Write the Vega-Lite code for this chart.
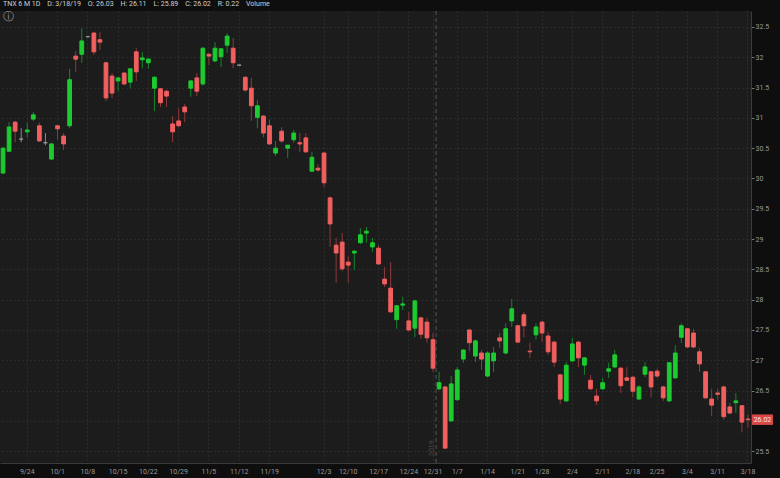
{
  "$schema": "https://vega.github.io/schema/vega-lite/v6.json",
  "width": 751,
  "height": 452,
  "autosize": {"type": "none"},
  "padding": {"left": 0, "top": 11, "right": 29, "bottom": 15},
  "background": "#0e0e0e",
  "title": {"text": "TNX 6 M 1D\u00a0\u00a0\u00a0\u00a0D: 3/18/19\u00a0\u00a0\u00a0\u00a0O: 26.03\u00a0\u00a0\u00a0\u00a0H: 26.11\u00a0\u00a0\u00a0\u00a0L: 25.89\u00a0\u00a0\u00a0\u00a0C: 26.02\u00a0\u00a0\u00a0\u00a0R: 0.22\u00a0\u00a0\u00a0\u00a0Volume", "anchor": "start", "frame": "group", "fontSize": 7, "font": "Roboto", "fontWeight": "normal", "color": "#d0d0d0", "offset": 3, "baseline": "bottom", "dx": 3, "dy": 6},
  "config": {
    "view": {"fill": "#1c1c1c", "stroke": null},
    "axis": {"labelFont": "Roboto", "labelFontSize": 7, "labelColor": "#9a9a9a", "gridColor": "#3a3a3a", "gridDash": [1, 3], "domainColor": "#3a3a3a", "title": null, "labelOverlap": false}
  },
  "data": {"values": [
    {"d":"9/18","o":30.09,"h":30.52,"l":30.07,"c":30.50},
    {"d":"9/19","o":30.45,"h":30.93,"l":30.44,"c":30.85},
    {"d":"9/20","o":30.93,"h":30.95,"l":30.60,"c":30.78},
    {"d":"9/21","o":30.65,"h":30.83,"l":30.60,"c":30.65},
    {"d":"9/24","o":30.77,"h":30.93,"l":30.67,"c":30.80},
    {"d":"9/25","o":30.98,"h":31.10,"l":30.95,"c":31.05},
    {"d":"9/26","o":30.87,"h":30.92,"l":30.60,"c":30.62},
    {"d":"9/27","o":30.59,"h":30.75,"l":30.55,"c":30.59},
    {"d":"9/28","o":30.32,"h":30.59,"l":30.31,"c":30.57},
    {"d":"10/1","o":30.87,"h":30.88,"l":30.64,"c":30.82},
    {"d":"10/2","o":30.70,"h":30.75,"l":30.47,"c":30.57},
    {"d":"10/3","o":30.87,"h":31.81,"l":30.83,"c":31.63},
    {"d":"10/4","o":32.02,"h":32.10,"l":31.76,"c":31.97},
    {"d":"10/5","o":32.05,"h":32.48,"l":31.91,"c":32.27},
    {"d":"10/8","o":32.34,"h":32.35,"l":32.33,"c":32.34},
    {"d":"10/9","o":32.40,"h":32.42,"l":32.04,"c":32.09},
    {"d":"10/10","o":32.29,"h":32.42,"l":32.12,"c":32.25},
    {"d":"10/11","o":31.91,"h":31.92,"l":31.28,"c":31.33},
    {"d":"10/12","o":31.69,"h":31.74,"l":31.33,"c":31.41},
    {"d":"10/15","o":31.61,"h":31.66,"l":31.44,"c":31.66},
    {"d":"10/16","o":31.74,"h":31.76,"l":31.54,"c":31.56},
    {"d":"10/17","o":31.59,"h":31.82,"l":31.49,"c":31.81},
    {"d":"10/18","o":32.09,"h":32.15,"l":31.61,"c":31.76},
    {"d":"10/19","o":31.96,"h":32.09,"l":31.82,"c":31.99},
    {"d":"10/22","o":31.91,"h":31.99,"l":31.81,"c":31.97},
    {"d":"10/23","o":31.49,"h":31.69,"l":31.11,"c":31.67},
    {"d":"10/24","o":31.48,"h":31.49,"l":31.18,"c":31.25},
    {"d":"10/25","o":31.44,"h":31.46,"l":31.18,"c":31.36},
    {"d":"10/26","o":30.90,"h":31.03,"l":30.60,"c":30.77},
    {"d":"10/29","o":30.95,"h":31.16,"l":30.85,"c":30.87},
    {"d":"10/30","o":31.18,"h":31.23,"l":30.93,"c":31.10},
    {"d":"10/31","o":31.49,"h":31.63,"l":31.35,"c":31.61},
    {"d":"11/1","o":31.66,"h":31.74,"l":31.36,"c":31.44},
    {"d":"11/2","o":31.56,"h":32.17,"l":31.53,"c":32.15},
    {"d":"11/5","o":32.05,"h":32.07,"l":31.87,"c":32.02},
    {"d":"11/6","o":31.94,"h":32.25,"l":31.92,"c":32.15},
    {"d":"11/7","o":32.01,"h":32.15,"l":31.84,"c":32.14},
    {"d":"11/8","o":32.20,"h":32.40,"l":32.07,"c":32.35},
    {"d":"11/9","o":32.15,"h":32.32,"l":31.82,"c":31.91},
    {"d":"11/12","o":31.87,"h":31.88,"l":31.86,"c":31.87},
    {"d":"11/13","o":31.67,"h":31.69,"l":31.43,"c":31.46},
    {"d":"11/14","o":31.49,"h":31.66,"l":30.95,"c":31.20},
    {"d":"11/15","o":31.01,"h":31.30,"l":30.83,"c":31.20},
    {"d":"11/16","o":31.03,"h":31.05,"l":30.68,"c":30.75},
    {"d":"11/19","o":30.87,"h":30.97,"l":30.55,"c":30.57},
    {"d":"11/20","o":30.42,"h":30.62,"l":30.37,"c":30.50},
    {"d":"11/21","o":30.78,"h":30.85,"l":30.59,"c":30.62},
    {"d":"11/23","o":30.50,"h":30.55,"l":30.34,"c":30.55},
    {"d":"11/26","o":30.64,"h":30.80,"l":30.59,"c":30.75},
    {"d":"11/27","o":30.59,"h":30.75,"l":30.44,"c":30.57},
    {"d":"11/28","o":30.67,"h":30.75,"l":30.42,"c":30.44},
    {"d":"11/29","o":30.12,"h":30.44,"l":30.11,"c":30.35},
    {"d":"11/30","o":30.17,"h":30.24,"l":30.11,"c":30.14},
    {"d":"12/3","o":30.42,"h":30.44,"l":29.86,"c":29.93},
    {"d":"12/4","o":29.68,"h":29.70,"l":28.87,"c":29.25},
    {"d":"12/6","o":28.90,"h":29.02,"l":28.28,"c":28.77},
    {"d":"12/7","o":28.95,"h":29.10,"l":28.47,"c":28.51},
    {"d":"12/10","o":28.62,"h":28.71,"l":28.28,"c":28.57},
    {"d":"12/11","o":28.77,"h":28.82,"l":28.49,"c":28.80},
    {"d":"12/12","o":28.94,"h":29.18,"l":28.92,"c":29.07},
    {"d":"12/13","o":29.10,"h":29.20,"l":28.94,"c":29.13},
    {"d":"12/14","o":28.87,"h":29.02,"l":28.79,"c":28.94},
    {"d":"12/17","o":28.85,"h":28.90,"l":28.57,"c":28.59},
    {"d":"12/18","o":28.34,"h":28.54,"l":28.21,"c":28.26},
    {"d":"12/19","o":28.19,"h":28.62,"l":27.78,"c":27.80},
    {"d":"12/20","o":27.67,"h":27.91,"l":27.52,"c":27.90},
    {"d":"12/21","o":27.91,"h":28.05,"l":27.83,"c":27.93},
    {"d":"12/24","o":27.65,"h":27.80,"l":27.48,"c":27.50},
    {"d":"12/26","o":27.53,"h":28.00,"l":27.38,"c":27.98},
    {"d":"12/27","o":27.70,"h":27.71,"l":27.35,"c":27.43},
    {"d":"12/28","o":27.63,"h":27.70,"l":27.29,"c":27.37},
    {"d":"12/31","o":27.34,"h":27.45,"l":26.81,"c":26.87},
    {"d":"1/2","o":26.53,"h":26.81,"l":26.51,"c":26.63},
    {"d":"1/3","o":26.56,"h":26.58,"l":25.54,"c":25.55},
    {"d":"1/4","o":26.00,"h":26.74,"l":25.98,"c":26.61},
    {"d":"1/7","o":26.35,"h":26.89,"l":26.33,"c":26.84},
    {"d":"1/8","o":27.02,"h":27.18,"l":26.96,"c":27.17},
    {"d":"1/9","o":27.50,"h":27.52,"l":27.15,"c":27.29},
    {"d":"1/10","o":27.07,"h":27.34,"l":26.97,"c":27.32},
    {"d":"1/11","o":27.12,"h":27.17,"l":26.84,"c":27.02},
    {"d":"1/14","o":26.74,"h":27.15,"l":26.72,"c":27.12},
    {"d":"1/15","o":26.99,"h":27.22,"l":26.81,"c":27.12},
    {"d":"1/16","o":27.37,"h":27.45,"l":27.20,"c":27.32},
    {"d":"1/17","o":27.12,"h":27.61,"l":27.10,"c":27.52},
    {"d":"1/18","o":27.65,"h":28.01,"l":27.55,"c":27.85},
    {"d":"1/22","o":27.57,"h":27.58,"l":27.29,"c":27.30},
    {"d":"1/23","o":27.75,"h":27.80,"l":27.38,"c":27.57},
    {"d":"1/24","o":27.15,"h":27.29,"l":27.04,"c":27.14},
    {"d":"1/25","o":27.42,"h":27.61,"l":27.34,"c":27.55},
    {"d":"1/28","o":27.63,"h":27.65,"l":27.30,"c":27.45},
    {"d":"1/29","o":27.40,"h":27.47,"l":27.09,"c":27.14},
    {"d":"1/30","o":27.30,"h":27.32,"l":26.89,"c":26.97},
    {"d":"1/31","o":26.76,"h":26.77,"l":26.28,"c":26.36},
    {"d":"2/1","o":26.33,"h":26.97,"l":26.31,"c":26.92},
    {"d":"2/4","o":26.99,"h":27.37,"l":26.97,"c":27.27},
    {"d":"2/5","o":27.30,"h":27.32,"l":26.89,"c":27.04},
    {"d":"2/6","o":26.92,"h":27.05,"l":26.76,"c":27.04},
    {"d":"2/7","o":26.67,"h":26.76,"l":26.51,"c":26.53},
    {"d":"2/8","o":26.41,"h":26.53,"l":26.26,"c":26.33},
    {"d":"2/11","o":26.53,"h":26.71,"l":26.51,"c":26.63},
    {"d":"2/12","o":26.82,"h":26.96,"l":26.71,"c":26.86},
    {"d":"2/13","o":26.89,"h":27.17,"l":26.87,"c":27.09},
    {"d":"2/14","o":26.87,"h":26.89,"l":26.46,"c":26.58},
    {"d":"2/15","o":26.71,"h":26.89,"l":26.66,"c":26.67},
    {"d":"2/19","o":26.72,"h":26.74,"l":26.39,"c":26.49},
    {"d":"2/20","o":26.36,"h":26.59,"l":26.35,"c":26.56},
    {"d":"2/21","o":26.77,"h":26.97,"l":26.72,"c":26.89},
    {"d":"2/22","o":26.81,"h":26.82,"l":26.39,"c":26.56},
    {"d":"2/25","o":26.82,"h":26.86,"l":26.71,"c":26.74},
    {"d":"2/26","o":26.56,"h":26.58,"l":26.33,"c":26.38},
    {"d":"2/27","o":26.33,"h":26.97,"l":26.31,"c":26.96},
    {"d":"2/28","o":26.71,"h":27.25,"l":26.69,"c":27.12},
    {"d":"3/1","o":27.38,"h":27.61,"l":27.29,"c":27.57},
    {"d":"3/4","o":27.52,"h":27.53,"l":27.20,"c":27.22},
    {"d":"3/5","o":27.45,"h":27.52,"l":27.20,"c":27.22},
    {"d":"3/6","o":27.14,"h":27.20,"l":26.81,"c":26.94},
    {"d":"3/7","o":26.81,"h":26.82,"l":26.36,"c":26.38},
    {"d":"3/8","o":26.36,"h":26.53,"l":26.08,"c":26.26},
    {"d":"3/11","o":26.46,"h":26.53,"l":26.35,"c":26.44},
    {"d":"3/12","o":26.56,"h":26.58,"l":26.02,"c":26.07},
    {"d":"3/13","o":26.23,"h":26.30,"l":26.11,"c":26.13},
    {"d":"3/14","o":26.30,"h":26.46,"l":26.13,"c":26.33},
    {"d":"3/15","o":26.25,"h":26.26,"l":25.81,"c":25.98},
    {"d":"3/18","o":26.03,"h":26.11,"l":25.89,"c":26.02}
  ]},
  "encoding": {
    "x": {"field": "d", "type": "ordinal", "title": null,
      "scale": {"type": "band", "paddingInner": 0, "paddingOuter": 0, "domain": ["9/18","9/19","9/20","9/21","9/24","9/25","9/26","9/27","9/28","10/1","10/2","10/3","10/4","10/5","10/8","10/9","10/10","10/11","10/12","10/15","10/16","10/17","10/18","10/19","10/22","10/23","10/24","10/25","10/26","10/29","10/30","10/31","11/1","11/2","11/5","11/6","11/7","11/8","11/9","11/12","11/13","11/14","11/15","11/16","11/19","11/20","11/21","11/23","11/26","11/27","11/28","11/29","11/30","12/3","12/4","12/6","12/7","12/10","12/11","12/12","12/13","12/14","12/17","12/18","12/19","12/20","12/21","12/24","12/26","12/27","12/28","12/31","1/2","1/3","1/4","1/7","1/8","1/9","1/10","1/11","1/14","1/15","1/16","1/17","1/18","1/22","1/23","1/24","1/25","1/28","1/29","1/30","1/31","2/1","2/4","2/5","2/6","2/7","2/8","2/11","2/12","2/13","2/14","2/15","2/19","2/20","2/21","2/22","2/25","2/26","2/27","2/28","3/1","3/4","3/5","3/6","3/7","3/8","3/11","3/12","3/13","3/14","3/15","3/18"]},
      "axis": {"values": ["9/24","10/1","10/8","10/15","10/22","10/29","11/5","11/12","11/19","12/3","12/10","12/17","12/24","12/31","1/7","1/14","1/22","1/28","2/4","2/11","2/19","2/25","3/4","3/11","3/18"],
        "labelExpr": "datum.value == '1/22' ? '1/21' : datum.value == '2/19' ? '2/18' : datum.value",
        "labelAngle": 0, "labelOverlap": false, "ticks": false, "labelPadding": 4, "grid": true, "bandPosition": 0.5, "domain": true, "title": null}}
  },
  "layer": [
    {
      "mark": {"type": "rule", "strokeWidth": 1},
      "encoding": {
        "y": {"field": "l", "type": "quantitative", "title": null,
          "scale": {"domain": [25.305, 32.764], "nice": false, "zero": false},
          "axis": {"orient": "right", "values": [25.5, 26, 26.5, 27, 27.5, 28, 28.5, 29, 29.5, 30, 30.5, 31, 31.5, 32, 32.5], "format": ".3~f",
            "labelExpr": "datum.value == 26 ? '' : datum.label", "labelOverlap": false, "labelBound": false, "tickSize": 3, "tickColor": "#777", "labelPadding": 1, "grid": true, "domain": true, "title": null}},
        "y2": {"field": "h"},
        "color": {"condition": [{"test": "datum.c > datum.o", "value": "#13862a"}, {"test": "datum.c < datum.o", "value": "#8e3a3a"}], "value": "#8a8a8a"}
      }
    },
    {
      "mark": {"type": "bar", "width": {"band": 0.62}, "strokeWidth": 1},
      "encoding": {
        "y": {"field": "o", "type": "quantitative", "title": null,
          "axis": {"orient": "right", "values": [25.5, 26, 26.5, 27, 27.5, 28, 28.5, 29, 29.5, 30, 30.5, 31, 31.5, 32, 32.5], "format": ".3~f",
            "labelExpr": "datum.value == 26 ? '' : datum.label", "labelOverlap": false, "labelBound": false, "tickSize": 3, "tickColor": "#777", "labelPadding": 1, "grid": true, "domain": true, "title": null}},
        "y2": {"field": "c"},
        "fill": {"condition": [{"test": "datum.c > datum.o", "value": "#1ccb30"}, {"test": "datum.c < datum.o", "value": "#f15f5f"}], "value": "#9a9a9a"},
        "stroke": {"condition": [{"test": "datum.c > datum.o", "value": "#1ccb30"}, {"test": "datum.c < datum.o", "value": "#f15f5f"}], "value": "#9a9a9a"}
      }
    },
    {
      "data": {"values": [{"d": "1/2", "p": 25.42, "label": "2019"}]},
      "layer": [
        {
          "mark": {"type": "rule", "strokeDash": [4, 3], "color": "#555555", "strokeWidth": 1},
          "encoding": {"x": {"field": "d", "type": "ordinal", "bandPosition": 0, "title": null}}
        },
        {
          "mark": {"type": "text", "angle": 270, "align": "left", "baseline": "bottom", "font": "Roboto", "fontSize": 7, "color": "#4a4a4a", "dy": -1},
          "encoding": {"x": {"field": "d", "type": "ordinal", "bandPosition": 0, "title": null},
            "y": {"field": "p", "type": "quantitative", "title": null,
              "axis": {"orient": "right", "values": [25.5, 26, 26.5, 27, 27.5, 28, 28.5, 29, 29.5, 30, 30.5, 31, 31.5, 32, 32.5], "format": ".3~f",
                "labelExpr": "datum.value == 26 ? '' : datum.label", "labelOverlap": false, "labelBound": false, "tickSize": 3, "tickColor": "#777", "labelPadding": 1, "grid": true, "domain": true, "title": null}},
            "text": {"field": "label"}}
        }
      ]
    },
    {
      "data": {"values": [{"d": "9/19", "p": 32.665, "label": "ⓘ"}]},
      "mark": {"type": "text", "font": "DejaVu Sans", "fontSize": 11, "color": "#9a9a9a", "baseline": "middle", "align": "center", "dx": -1},
      "encoding": {"x": {"field": "d", "type": "ordinal", "title": null},
        "y": {"field": "p", "type": "quantitative", "title": null,
          "axis": {"orient": "right", "values": [25.5, 26, 26.5, 27, 27.5, 28, 28.5, 29, 29.5, 30, 30.5, 31, 31.5, 32, 32.5], "format": ".3~f",
            "labelExpr": "datum.value == 26 ? '' : datum.label", "labelOverlap": false, "labelBound": false, "tickSize": 3, "tickColor": "#777", "labelPadding": 1, "grid": true, "domain": true, "title": null}},
        "text": {"field": "label"}}
    },
    {
      "data": {"values": [{"d": "3/18", "c": 26.02, "label": "26.02"}]},
      "layer": [
        {
          "mark": {"type": "point", "shape": "M-1,-0.5L1,-0.5L1,0.5L-1,0.5Z", "size": 441, "filled": true, "color": "#d84848", "opacity": 1, "xOffset": 14.5},
          "encoding": {"y": {"field": "c", "type": "quantitative", "title": null,
            "axis": {"orient": "right", "values": [25.5, 26, 26.5, 27, 27.5, 28, 28.5, 29, 29.5, 30, 30.5, 31, 31.5, 32, 32.5], "format": ".3~f",
              "labelExpr": "datum.value == 26 ? '' : datum.label", "labelOverlap": false, "labelBound": false, "tickSize": 3, "tickColor": "#777", "labelPadding": 1, "grid": true, "domain": true, "title": null}}}
        },
        {
          "mark": {"type": "text", "font": "Roboto", "fontSize": 7, "color": "#ffe0e0", "xOffset": 14.5, "baseline": "middle", "align": "center"},
          "encoding": {"y": {"field": "c", "type": "quantitative", "title": null,
            "axis": {"orient": "right", "values": [25.5, 26, 26.5, 27, 27.5, 28, 28.5, 29, 29.5, 30, 30.5, 31, 31.5, 32, 32.5], "format": ".3~f",
              "labelExpr": "datum.value == 26 ? '' : datum.label", "labelOverlap": false, "labelBound": false, "tickSize": 3, "tickColor": "#777", "labelPadding": 1, "grid": true, "domain": true, "title": null}},
            "text": {"field": "label"}}
        }
      ]
    }
  ]
}
